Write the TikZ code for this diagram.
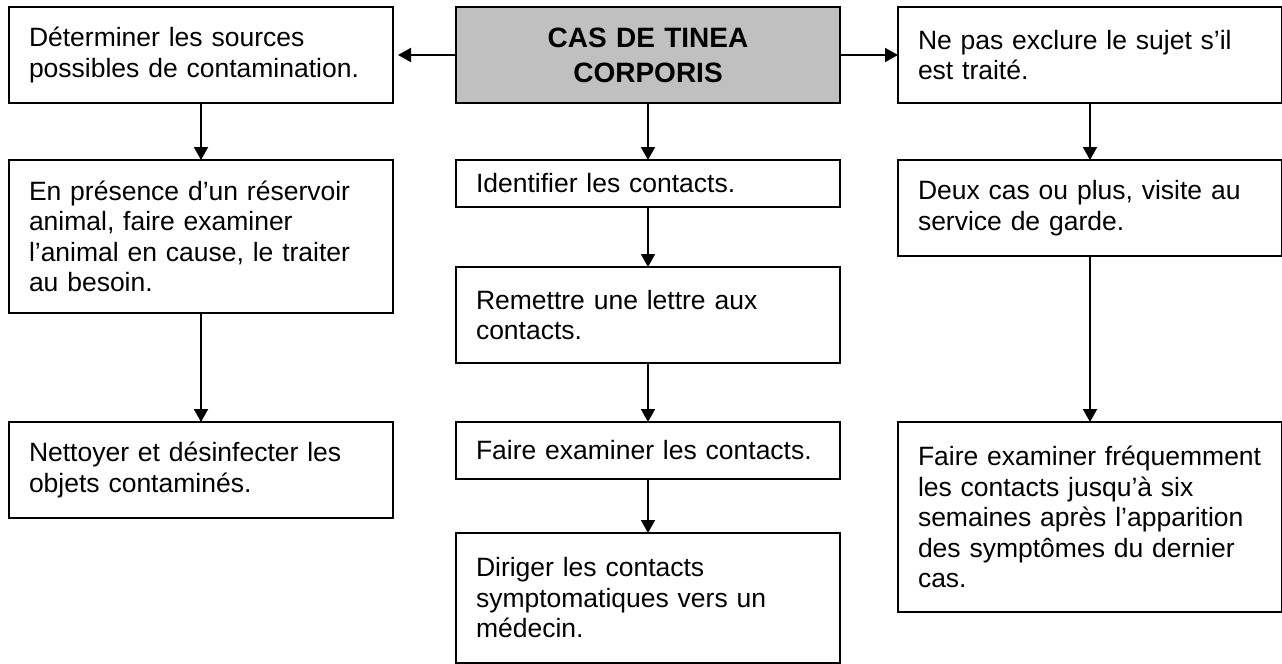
\documentclass[tikz,border=0pt]{standalone}
\usepackage{fontspec}
\setmainfont{Liberation Sans}
\usepackage{xcolor}
\usetikzlibrary{arrows.meta, positioning}
\definecolor{titlegray}{RGB}{192,192,192}

\begin{document}
\begin{tikzpicture}[
  x=0.5pt, y=-0.5pt,
  box/.style={rectangle, draw=black, line width=1pt, outer sep=0pt, inner xsep=10pt, inner ysep=0pt, text width=172pt, align=left, minimum height=48pt, font=\fontsize{13.25}{15.25}\selectfont},
  titlebox/.style={box, fill=titlegray, align=center, font=\fontsize{14}{17.5}\selectfont\bfseries},
  arrow/.style={-{Triangle[length=6.5pt, width=7pt]}, line width=1pt, draw=black}
]
\useasboundingbox (0,0) rectangle (1282,664);

% Nodes
\node[box, anchor=north west] (sources) at (9,7) {Déterminer les sources\\possibles de contamination.};
\node[titlebox, right=31.5pt of sources] (case) {CAS DE TINEA\\CORPORIS};
\node[box, right=29pt of case] (treated) {Ne pas exclure le sujet s’il\\est traité.};

\node[box, minimum height=76.5pt, below=28.5pt of sources] (animal) {En présence d’un réservoir\\animal, faire examiner\\l’animal en cause, le traiter\\au besoin.};
\node[box, below=54.5pt of animal] (clean) {Nettoyer et désinfecter les\\objets contaminés.};

\node[box, minimum height=23.5pt, below=28.5pt of case] (identify) {Identifier les contacts.};
\node[box, below=30pt of identify] (letter) {Remettre une lettre aux\\contacts.};
\node[box, minimum height=28.5pt, below=29.5pt of letter] (examine) {Faire examiner les contacts.};
\node[box, minimum height=65pt, below=27pt of examine] (doctor) {Diriger les contacts\\symptomatiques vers un\\médecin.};

\node[box, below=28.5pt of treated] (daycare) {Deux cas ou plus, visite au\\service de garde.};
\node[box, minimum height=95pt, below=83pt of daycare] (followup) {Faire examiner fréquemment\\les contacts jusqu’à six\\semaines après l’apparition\\des symptômes du dernier\\cas.};

% Arrows
\draw[arrow, shorten >=2.5pt] (case) -- (sources);
\draw[arrow] (case) -- (treated);
\draw[arrow] (sources) -- (animal);
\draw[arrow] (animal) -- (clean);
\draw[arrow] (case) -- (identify);
\draw[arrow] (identify) -- (letter);
\draw[arrow] (letter) -- (examine);
\draw[arrow] (examine) -- (doctor);
\draw[arrow] (treated) -- (daycare);
\draw[arrow] (daycare) -- (followup);

\end{tikzpicture}
\end{document}
